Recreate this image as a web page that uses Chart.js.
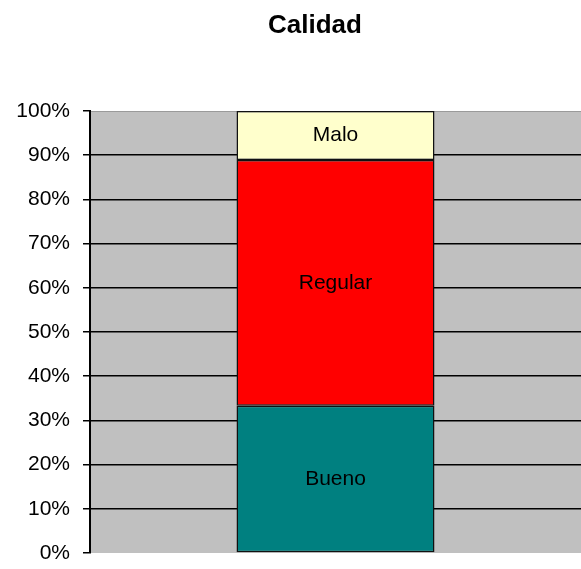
<!DOCTYPE html>
<html>
<head>
<meta charset="utf-8">
<script src="https://cdn.jsdelivr.net/npm/chart.js@4/dist/chart.umd.min.js"></script>
<style>
  html, body { margin: 0; padding: 0; background: #fff; }
  #wrap { width: 581px; height: 569px; }
</style>
</head>
<body>
<div id="wrap"><canvas id="calidadChart" width="581" height="569"></canvas></div>
<script>
// datos del gráfico (porcentajes del total)
const categorias = ['Calidad'];
const bueno = [33.3];
const regular = [55.6];
const malo = [11.1];
const tituloGrafico = 'Calidad';

// fondo gris del área de trazado
const fondoPlugin = {
    id: 'fondo',
    beforeDraw(chart) {
        const { ctx, chartArea } = chart;
        ctx.save();
        ctx.fillStyle = '#C0C0C0';
        ctx.fillRect(chartArea.left, chartArea.top, chartArea.right - chartArea.left, chartArea.bottom - chartArea.top);
        ctx.strokeStyle = '#9a9a9a';
        ctx.lineWidth = 1;
        ctx.beginPath();
        ctx.moveTo(chartArea.left, chartArea.top + 0.5);
        ctx.lineTo(chartArea.right, chartArea.top + 0.5);
        ctx.stroke();
        ctx.restore();
    }
};

// título y etiquetas dentro de cada segmento
const textosPlugin = {
    id: 'textos',
    afterDatasetsDraw(chart) {
        const ctx = chart.ctx;
        ctx.save();
        ctx.fillStyle = '#000';
        ctx.font = 'bold 26px "Liberation Sans", Arial, sans-serif';
        ctx.textAlign = 'center';
        ctx.textBaseline = 'alphabetic';
        ctx.fillText(tituloGrafico, 315, 33);

        ctx.font = '21px "Liberation Sans", Arial, sans-serif';
        ctx.textBaseline = 'middle';
        chart.data.datasets.forEach((ds, i) => {
            chart.getDatasetMeta(i).data.forEach(bar => {
                ctx.fillText(ds.label, bar.x, (bar.y + bar.base) / 2);
            });
        });
        ctx.restore();
    }
};

const ctx = document.getElementById('calidadChart').getContext('2d');
new Chart(ctx, {
    type: 'bar',
    data: {
        labels: categorias,
        datasets: [
            { label: 'Bueno', data: bueno, backgroundColor: '#008080' },
            { label: 'Regular', data: regular, backgroundColor: '#FF0000' },
            { label: 'Malo', data: malo, backgroundColor: '#FFFFCC' }
        ].map(d => Object.assign(d, {
            borderColor: '#111',
            borderWidth: 1.5,
            borderSkipped: false,
            barPercentage: 198 / 491,
            categoryPercentage: 1
        }))
    },
    options: {
        responsive: false,
        animation: false,
        layout: { padding: { top: 111, bottom: 16, left: 0, right: 0 } },
        plugins: {
            legend: { display: false },
            title: { display: false },
            tooltip: { enabled: false }
        },
        scales: {
            x: { stacked: true, display: false },
            y: {
                stacked: true,
                min: 0,
                max: 100,
                afterFit(scale) {
                    scale.width = 90;
                    scale.paddingTop = 0;
                    scale.paddingBottom = 0;
                },
                border: { display: true, color: '#000', width: 2 },
                grid: {
                    color: c => (c.tick && (c.tick.value === 0 || c.tick.value === 100)) ? 'rgba(0,0,0,0)' : '#000',
                    lineWidth: 1.5,
                    tickColor: '#000',
                    tickLength: 7,
                    drawOnChartArea: true
                },
                ticks: {
                    stepSize: 10,
                    padding: 13,
                    color: '#000',
                    font: { family: '"Liberation Sans", Arial, sans-serif', size: 21 },
                    callback: v => v + '%'
                }
            }
        }
    },
    plugins: [fondoPlugin, textosPlugin]
});
</script>
</body>
</html>
